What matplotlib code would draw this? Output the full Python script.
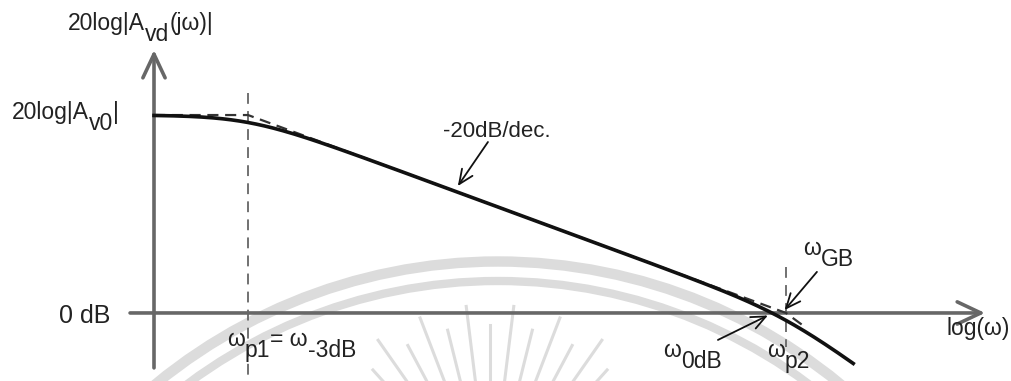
import numpy as np
import matplotlib
matplotlib.use("Agg")
import matplotlib.pyplot as plt
from matplotlib.patches import Arc
from matplotlib.transforms import offset_copy

plt.rcParams["font.family"] = ["Liberation Sans", "DejaVu Sans"]

# open-loop gain of a two-pole op amp
A0_DB = 80.0          # 20log|Av0|
W_P1 = 1e1            # first pole, = w-3dB
W_P2 = 1e5            # second pole, placed at the gain-bandwidth product
W_GB = W_P2
W_AXIS = 2.0          # where the vertical axis crosses
W_END = 10 ** 5.5

w = np.logspace(np.log10(W_AXIS), np.log10(W_END), 500)
gain = (A0_DB - 10 * np.log10(1 + (w / W_P1) ** 2)
        - 10 * np.log10(1 + (w / W_P2) ** 2))

# straight-line asymptotes
asym_w = [W_AXIS, W_P1, W_GB, W_GB * 10 ** 0.15]
asym_db = [A0_DB, A0_DB, 0.0, -40 * 0.15]

# 0 dB crossing of the real curve
w_0db = np.interp(0.0, gain[::-1], w[::-1])

fig = plt.figure(figsize=(10.11, 3.81), dpi=100)
ax = fig.add_axes([0, 0, 1, 1])
ax.set_xscale("log")
ax.set_xlim(10 ** -0.844, 10 ** 6.673)
ax.set_ylim(-27.5, 126.5)
ax.axis("off")

# faint watermark behind the plot (figure inches)
wm = "#dcdcdc"
for d, lw in ((10.79, 7.5), (10.40, 6.0)):
    ax.add_patch(Arc((4.98, -4.20), d, d, theta1=0, theta2=180,
                     transform=fig.dpi_scale_trans, color=wm, lw=lw, zorder=0))
for k, ang in enumerate(np.linspace(-42, 42, 13)):
    a = np.deg2rad(90 + ang)
    r0, r1 = 1.0, (1.95 if k % 2 else 1.75)
    ax.plot([4.90 + r0 * np.cos(a), 4.90 + r1 * np.cos(a)],
            [-1.19 + r0 * np.sin(a), -1.19 + r1 * np.sin(a)],
            transform=fig.dpi_scale_trans, color=wm, lw=2.2, zorder=0)

axis_kw = dict(arrowstyle="->,head_length=0.85,head_width=0.4",
               color="#676767", lw=2.6, mutation_scale=20,
               shrinkA=0, shrinkB=0)
ax.annotate("", xy=(W_AXIS, 106.3), xytext=(W_AXIS, -22.2),
            arrowprops=axis_kw, zorder=3)
ax.annotate("", xy=(10 ** 6.48, 0), xytext=(10 ** 0.123, 0),
            arrowprops=axis_kw, zorder=3)

# pole markers
ax.plot([W_P1, W_P1], [88.9, -30], color="#666666", lw=1.3,
        dashes=(6, 4), zorder=2)
ax.plot([W_P2, W_P2], [18.6, -13.7], color="#666666", lw=1.3,
        dashes=(6, 4), zorder=2)

ax.plot(asym_w, asym_db, color="#333333", lw=1.6, dashes=(5, 3), zorder=4)
ax.plot(w, gain, color="#111111", lw=2.6, zorder=5)

txt = "#222222"


def chain(x, y, pieces, size=16.5):
    # text pieces laid end to end, each with its own baseline shift (pt)
    r = fig.canvas.get_renderer()
    dx = 0.0
    for s, dy in pieces:
        tr = offset_copy(ax.transData, fig=fig, x=dx, y=dy, units="points")
        t = ax.text(x, y, s, transform=tr, fontsize=size, color=txt,
                    ha="left", va="baseline", zorder=6)
        dx += t.get_window_extent(r).width * 72 / fig.dpi


chain(0.46, 114.3, [("20log|A", 0), ("vd", -8), ("(jω)|", 0)])
chain(0.176, A0_DB - 1.5, [("20log|A", 0), ("v0", -8), ("|", 0)])
ax.text(0.94, -4.0, "0 dB", fontsize=18, color=txt, ha="right",
        va="baseline", zorder=6)
chain(W_P1 * 10 ** -0.156, -13.2,
      [("ω", 0), ("p1", -8), ("= ω", 0), ("-3dB", -8)])
chain(10 ** 5.126, 23.5, [("ω", 0), ("GB", -8)])
chain(10 ** 4.086, -17.7, [("ω", 0), ("0dB", -8)])
chain(10 ** 4.859, -17.7, [("ω", 0), ("p2", -8)])
ax.text(10 ** 6.197, -8.9, "log(ω)", fontsize=16.5, color=txt,
        ha="left", va="baseline", zorder=6)
ax.text(10 ** 2.45, 71.1, "-20dB/dec.", fontsize=16, color=txt,
        ha="left", va="baseline", zorder=6)

ptr = dict(arrowstyle="->,head_length=0.8,head_width=0.35", color="#111111",
           lw=1.3, mutation_scale=13, shrinkA=0, shrinkB=0)
w_slope = 10 ** 2.56
g_slope = np.interp(w_slope, w, gain)
ax.annotate("", xy=(w_slope, g_slope + 2.5), xytext=(10 ** 2.784, 69.1),
            arrowprops=ptr, zorder=6)
ax.annotate("", xy=(W_GB * 10 ** -0.01, 1.2), xytext=(10 ** 5.23, 16.6),
            arrowprops=ptr, zorder=6)
ax.annotate("", xy=(w_0db * 10 ** -0.03, -1.0), xytext=(10 ** 4.494, -10.9),
            arrowprops=ptr, zorder=6)

fig.savefig("out.png", dpi=100)
